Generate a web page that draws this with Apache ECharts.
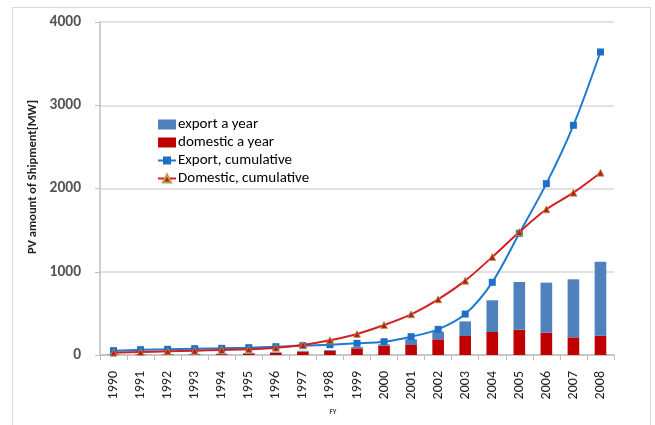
<!DOCTYPE html>
<html>
<head>
<meta charset="utf-8">
<script src="https://cdn.jsdelivr.net/npm/echarts@6/dist/echarts.min.js"></script>
<style>
html,body{margin:0;padding:0;background:#fff;}
#frame{position:absolute;left:12px;top:7px;width:639px;height:430px;border:1px solid #d9d9d9;box-sizing:border-box;}
#chart{position:absolute;left:0;top:0;width:655px;height:425px;}
</style>
</head>
<body>
<div id="frame"></div>
<div id="chart"></div>
<script>
const years = ['1990','1991','1992','1993','1994','1995','1996','1997','1998','1999','2000','2001','2002','2003','2004','2005','2006','2007','2008'];
const domesticYear = [3,3,5,7,10,18,25,40,50,80,112,120,188,228,276,304,268,212,232];
const exportYear = [5,5,5,5,5,5,8,10,10,15,15,68,92,176,381,573,601,697,889];
const exportCum = [52,64,68,76,80,88,100,112,124,140,160,220,308,492,873,1462,2058,2759,3640];
const domesticCum = [28,36,44,52,60,68,88,120,176,252,360,489,669,893,1177,1477,1750,1950,2190];
const yTicks = [0,1000,2000,3000,4000];

const chart = echarts.init(document.getElementById('chart'));
const font = 'Carlito, Lato, "Liberation Sans", sans-serif';
chart.setOption({
  animation: false,
  textStyle: {fontFamily: font},
  grid: {left: 100, right: 41, top: 22, bottom: 70},
  legend: {
    orient: 'vertical', left: 152, top: 112, itemGap: 3,
    itemWidth: 18, itemHeight: 10,
    textStyle: {fontSize: 15, color: '#000', fontFamily: font, padding: [0, 0, 0, -3]},
    data: [
      {name: 'export a year', icon: 'rect'},
      {name: 'domestic a year', icon: 'rect'},
      'Export, cumulative',
      'Domestic, cumulative'
    ]
  },
  graphic: [{
    type: 'text', left: 26, top: 100, rotation: Math.PI / 2,
    style: {text: 'PV amount of Shipment[MW]', font: 'bold 12.5px ' + font, fill: '#222'}
  }],
  xAxis: {
    type: 'category', data: years,
    name: 'FY', nameLocation: 'middle', nameGap: 54,
    nameTextStyle: {fontSize: 7, color: '#444', fontWeight: 'bold', padding: [0, 48, 0, 0]},
    axisLine: {lineStyle: {color: '#bfbfbf', width: 1.5}},
    axisTick: {show: true, length: 5, lineStyle: {color: '#bfbfbf'}},
    axisLabel: {rotate: 90, fontSize: 14, color: '#222', margin: 16}
  },
  yAxis: {
    type: 'value', min: yTicks[0], max: yTicks[yTicks.length-1], interval: 1000,
    axisLine: {show: true, lineStyle: {color: '#bfbfbf', width: 1.5}},
    axisTick: {show: true, length: 5, lineStyle: {color: '#bfbfbf'}},
    axisLabel: {fontSize: 15.5, fontWeight: 'bold', color: '#555', margin: 19,
                formatter: v => String(v)},
    splitLine: {lineStyle: {color: '#d9d9d9', width: 1.5}}
  },
  series: [
    {name: 'domestic a year', type: 'bar', stack: 'y', data: domesticYear, barWidth: '43%', z: 3,
     itemStyle: {color: '#c00000'}},
    {name: 'export a year', type: 'bar', stack: 'y', data: exportYear, barWidth: '43%', z: 3,
     itemStyle: {color: '#4f81bd'}},
    {name: 'Export, cumulative', type: 'line', data: exportCum, smooth: 0.3,
     symbol: 'rect', symbolSize: 7, z: 5,
     lineStyle: {color: '#1f7bcf', width: 2}, itemStyle: {color: '#1f6fc4'}},
    {name: 'Domestic, cumulative', type: 'line', data: domesticCum, smooth: 0.3,
     symbol: 'triangle', symbolSize: 7, z: 6,
     lineStyle: {color: '#d42020', width: 2},
     itemStyle: {color: '#b81c1c', borderColor: '#b8a040', borderWidth: 0.8}}
  ]
});
</script>
</body>
</html>
